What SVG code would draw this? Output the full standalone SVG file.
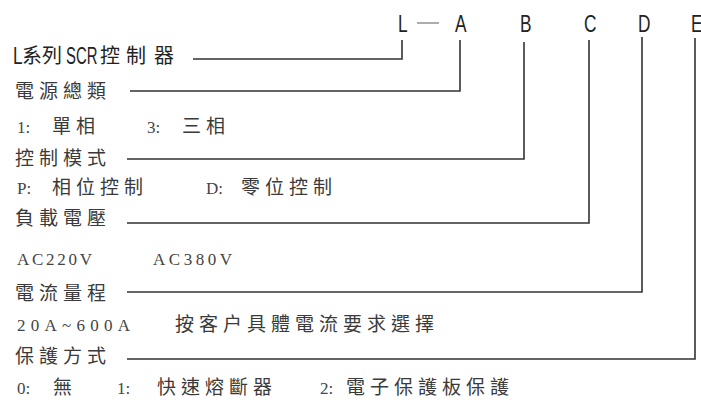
<svg xmlns="http://www.w3.org/2000/svg" width="701" height="403" viewBox="0 0 701 403">
<style>
.cjk{font-family:"Noto Sans CJK TC","Noto Sans CJK SC",sans-serif;font-size:19px;letter-spacing:5px;fill:#3a3a3a}
.lbl{font-family:"Noto Sans CJK TC","Noto Sans CJK SC",sans-serif;font-size:20px;fill:#222}
.num{font-family:"Liberation Serif",serif;font-size:17px;fill:#444}
.hdr{font-family:"Liberation Sans",sans-serif;font-size:24px;fill:#222}
.ln{fill:none;stroke:#333;stroke-width:1.6}
</style>
<rect width="701" height="403" fill="#fff"/>
<g id="header">
<text class="hdr" transform="translate(398,32) scale(0.72,1)">L</text>
<line x1="417" y1="23" x2="439" y2="23" stroke="#777" stroke-width="1.2"/>
<text class="hdr" transform="translate(455,32) scale(0.72,1)">A</text>
<text class="hdr" transform="translate(520,32) scale(0.72,1)">B</text>
<text class="hdr" transform="translate(584,32) scale(0.72,1)">C</text>
<text class="hdr" transform="translate(638,32) scale(0.72,1)">D</text>
<text class="hdr" transform="translate(691,32) scale(0.72,1)">E</text>
</g>
<g id="connectors">
<polyline class="ln" points="193,59 402,59 402,40"/>
<polyline class="ln" points="130,91 460,91 460,40"/>
<polyline class="ln" points="127,159 524,159 524,42"/>
<polyline class="ln" points="127,223 589,223 589,40"/>
<polyline class="ln" points="127,292 642,292 642,37"/>
<polyline class="ln" points="127,359 695,359 695,38"/>
</g>
<g id="node-series">
<text class="hdr" transform="translate(13,64) scale(0.72,1)">L</text>
<text class="lbl" x="22" y="63">系列</text>
<text class="hdr" transform="translate(66,64) scale(0.62,1)">SCR</text>
<text class="lbl" x="100 126 154" y="63">控制器</text>
</g>
<g id="node-power">
<text class="cjk" x="15" y="98">電源總類</text>
<text class="num" x="17" y="133">1:</text>
<text class="cjk" x="52" y="133">單相</text>
<text class="num" x="147" y="133">3:</text>
<text class="cjk" x="182" y="133">三相</text>
</g>
<g id="node-mode">
<text class="cjk" x="15" y="165">控制模式</text>
<text class="num" x="17" y="194">P:</text>
<text class="cjk" x="52" y="194">相位控制</text>
<text class="num" x="206" y="194">D:</text>
<text class="cjk" x="241" y="194" letter-spacing="7">零位控制</text>
</g>
<g id="node-voltage">
<text class="cjk" x="15" y="225">負載電壓</text>
<text class="num" x="17" y="265" textLength="75" lengthAdjust="spacing">AC220V</text>
<text class="num" x="153" y="265" textLength="79" lengthAdjust="spacing">AC380V</text>
</g>
<g id="node-current">
<text class="cjk" x="15" y="300">電流量程</text>
<text class="num" x="17" y="331" textLength="113" lengthAdjust="spacing">20A~600A</text>
<text class="cjk" x="175" y="331" letter-spacing="9">按客户具體電流要求選擇</text>
</g>
<g id="node-protection">
<text class="cjk" x="15" y="363">保護方式</text>
<text class="num" x="17" y="394">0:</text>
<text class="cjk" x="53" y="394">無</text>
<text class="num" x="117" y="394">1:</text>
<text class="cjk" x="157" y="394" letter-spacing="3.5">快速熔斷器</text>
<text class="num" x="320" y="394">2:</text>
<text class="cjk" x="346" y="394">電子保護板保護</text>
</g>
</svg>
